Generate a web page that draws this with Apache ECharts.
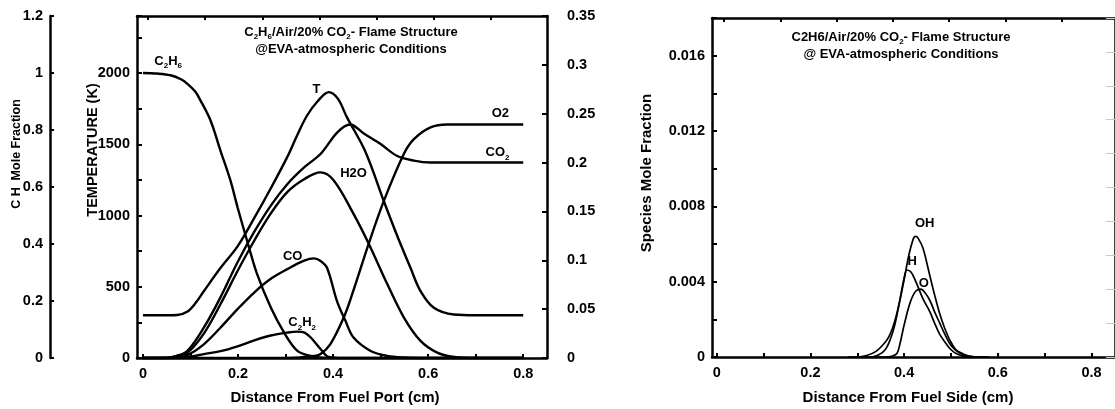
<!DOCTYPE html>
<html>
<head>
<meta charset="utf-8">
<script src="https://cdn.jsdelivr.net/npm/echarts@6/dist/echarts.min.js"></script>
<style>
html, body { margin: 0; padding: 0; background: #fff; }
#chart { width: 1115px; height: 409px; }
</style>
</head>
<body>
<div id="chart"></div>
<script>
// left panel: distance from fuel port (cm)
var c2h6X = [0, 0.03, 0.058, 0.08, 0.093, 0.11, 0.121, 0.142, 0.163, 0.184, 0.199, 0.22, 0.24, 0.269, 0.297, 0.325, 0.353, 0.38, 0.45, 0.6, 0.8];
var c2h6Y = [1.0, 0.998, 0.992, 0.978, 0.963, 0.935, 0.904, 0.834, 0.728, 0.623, 0.529, 0.406, 0.295, 0.177, 0.089, 0.025, 0.007, 0.001, 0, 0, 0];

var tempX = [0, 0.04, 0.072, 0.093, 0.111, 0.128, 0.163, 0.199, 0.234, 0.269, 0.304, 0.324, 0.345, 0.367, 0.391, 0.41, 0.429, 0.468, 0.507, 0.534, 0.563, 0.584, 0.612, 0.654, 0.7, 0.8];
var tempK = [300, 300, 302, 324, 387, 468, 631, 783, 981, 1191, 1413, 1560, 1700, 1800, 1866, 1820, 1690, 1448, 1098, 865, 631, 469, 352, 305, 300, 300];

var h2oX = [0, 0.05, 0.07, 0.093, 0.128, 0.163, 0.199, 0.234, 0.269, 0.304, 0.339, 0.373, 0.401, 0.443, 0.475, 0.514, 0.549, 0.584, 0.619, 0.655, 0.7, 0.8];
var h2oY = [0, 0, 0.002, 0.005, 0.025, 0.055, 0.089, 0.12, 0.148, 0.17, 0.183, 0.19, 0.182, 0.1475, 0.117, 0.0757, 0.0414, 0.0175, 0.0055, 0.001, 0, 0];

var co2X = [0, 0.05, 0.07, 0.093, 0.128, 0.163, 0.199, 0.234, 0.269, 0.304, 0.339, 0.374, 0.409, 0.436, 0.464, 0.5, 0.534, 0.57, 0.605, 0.65, 0.8];
var co2Y = [0, 0, 0.002, 0.007, 0.031, 0.062, 0.098, 0.129, 0.156, 0.178, 0.195, 0.209, 0.231, 0.239, 0.23, 0.219, 0.207, 0.202, 0.2, 0.2, 0.2];

var o2X = [0, 0.3, 0.33, 0.36, 0.373, 0.394, 0.422, 0.44, 0.475, 0.507, 0.549, 0.57, 0.605, 0.64, 0.7, 0.8];
var o2Y = [0, 0, 0.0005, 0.002, 0.0038, 0.014, 0.041, 0.065, 0.117, 0.161, 0.209, 0.224, 0.236, 0.239, 0.239, 0.239];

var coX = [0, 0.058, 0.093, 0.128, 0.163, 0.199, 0.234, 0.269, 0.304, 0.339, 0.36, 0.373, 0.387, 0.408, 0.426, 0.443, 0.479, 0.514, 0.549, 0.6, 0.8];
var coY = [0, 0, 0.003, 0.014, 0.031, 0.05, 0.067, 0.081, 0.091, 0.0996, 0.102, 0.0996, 0.0927, 0.0585, 0.038, 0.0209, 0.0072, 0.0021, 0.0005, 0, 0];

var c2h2X = [0, 0.093, 0.128, 0.163, 0.199, 0.234, 0.269, 0.304, 0.325, 0.34, 0.353, 0.374, 0.391, 0.42, 0.8];
var c2h2Y = [0, 0.001, 0.004, 0.007, 0.012, 0.018, 0.023, 0.026, 0.027, 0.026, 0.021, 0.009, 0.001, 0, 0];

// right panel: radicals vs distance from fuel side (cm)
var ohX = [0.28, 0.3, 0.32, 0.34, 0.36, 0.37, 0.38, 0.39, 0.4, 0.41, 0.42, 0.425, 0.43, 0.44, 0.455, 0.465, 0.476, 0.487, 0.4975, 0.51, 0.526, 0.54, 0.56, 0.58];
var ohY = [0, 0, 0.00008, 0.0003, 0.0008, 0.0012, 0.0019, 0.0029, 0.0041, 0.0054, 0.0063, 0.0064, 0.0063, 0.0058, 0.0043, 0.0033, 0.0023, 0.0015, 0.0009, 0.0004, 0.00016, 0.00004, 0, 0];

var hX = [0.3, 0.33, 0.345, 0.36, 0.37, 0.38, 0.39, 0.4, 0.406, 0.415, 0.425, 0.44, 0.455, 0.465, 0.476, 0.487, 0.4975, 0.51, 0.526, 0.54, 0.58];
var hY = [0, 0, 0.0001, 0.0004, 0.0009, 0.0017, 0.0029, 0.0042, 0.00462, 0.0045, 0.004, 0.0031, 0.0024, 0.0018, 0.0012, 0.0008, 0.00045, 0.0002, 0.00005, 0, 0];

var oX = [0.34, 0.36, 0.375, 0.385, 0.392, 0.4, 0.413, 0.425, 0.436, 0.445, 0.455, 0.465, 0.476, 0.487, 0.4975, 0.508, 0.518, 0.53, 0.54, 0.56, 0.58];
var oY = [0, 0, 0.00005, 0.0002, 0.0008, 0.0017, 0.0029, 0.0035, 0.0036, 0.0034, 0.003, 0.0024, 0.0018, 0.0012, 0.0007, 0.0004, 0.00022, 0.00008, 0.00003, 0, 0];

var xTicks = [0, 0.1, 0.2, 0.3, 0.4, 0.5, 0.6, 0.7, 0.8];
var xLabels = [0, 0.2, 0.4, 0.6, 0.8];
var topTicksL = [0.011, 0.131, 0.251, 0.371, 0.491, 0.611, 0.731];
var topTicksR = [0.016, 0.136, 0.256, 0.376, 0.496, 0.616, 0.736];

var FONT = '"Liberation Sans", Arial, sans-serif';

function zip(xs, ys) {
  var out = [];
  for (var i = 0; i < xs.length; i++) out.push([xs[i], ys[i]]);
  return out;
}

var tickLabel = { color: '#000', fontFamily: FONT, fontWeight: 'bold', fontSize: 14.5 };
var frameLine = { show: true, onZero: false, lineStyle: { color: '#000', width: 2.5 } };
var tickLine = { color: '#000', width: 2 };
var subRich = {
  b: { fontFamily: FONT, fontWeight: 'bold', fontSize: 13, color: '#000', lineHeight: 17, verticalAlign: 'middle' },
  s: { fontFamily: FONT, fontWeight: 'bold', fontSize: 8, color: '#000', verticalAlign: 'bottom' }
};
var titleRich = {
  b: { fontFamily: FONT, fontWeight: 'bold', fontSize: 13, color: '#000', lineHeight: 17, verticalAlign: 'middle' },
  s: { fontFamily: FONT, fontWeight: 'bold', fontSize: 8, color: '#000', verticalAlign: 'bottom' }
};

function curve(name, xs, ys, xi, yi, width, lab) {
  var s = {
    name: name,
    type: 'line',
    xAxisIndex: xi,
    yAxisIndex: yi,
    data: zip(xs, ys),
    showSymbol: false,
    smooth: 0.35,
    lineStyle: { color: '#000', width: width },
    silent: true
  };
  if (lab) {
    s.markPoint = {
      symbol: 'circle',
      symbolSize: 0,
      silent: true,
      label: { show: true, position: 'inside', formatter: lab.text, rich: subRich },
      data: [{ coord: lab.at }]
    };
  }
  return s;
}

var chart = echarts.init(document.getElementById('chart'), null, { renderer: 'canvas' });

var option = {
  animation: false,
  backgroundColor: '#fff',
  grid: [
    { left: 137, top: 16, width: 410, height: 342 },
    { left: 712, top: 18, width: 408.5, height: 339 }
  ],
  xAxis: [
    {
      gridIndex: 0, type: 'value', position: 'bottom', min: -0.0125, max: 0.85,
      axisLine: frameLine, splitLine: { show: false },
      axisTick: { inside: true, length: 4, lineStyle: tickLine, customValues: xTicks },
      axisLabel: Object.assign({ margin: 8, customValues: xLabels }, tickLabel)
    },
    {
      gridIndex: 0, type: 'value', position: 'top', min: -0.0125, max: 0.85,
      axisLine: frameLine, splitLine: { show: false }, axisLabel: { show: false },
      axisTick: { inside: true, length: 4, lineStyle: tickLine, customValues: topTicksL }
    },
    {
      gridIndex: 1, type: 'value', position: 'bottom', min: -0.01, max: 0.85,
      axisLine: frameLine, splitLine: { show: false },
      axisTick: { inside: true, length: 4, lineStyle: tickLine, customValues: xTicks },
      axisLabel: Object.assign({ margin: 8, customValues: xLabels }, tickLabel)
    },
    {
      gridIndex: 1, type: 'value', position: 'top', min: -0.01, max: 0.85,
      axisLine: frameLine, splitLine: { show: false }, axisLabel: { show: false },
      axisTick: { inside: true, length: 4, lineStyle: tickLine, customValues: topTicksR }
    }
  ],
  yAxis: [
    {
      // temperature
      gridIndex: 0, type: 'value', position: 'left', min: 0, max: 2400, interval: 250,
      axisLine: frameLine, splitLine: { show: false },
      axisTick: { inside: true, length: 5, lineStyle: tickLine },
      axisLabel: Object.assign({
        margin: 7,
        formatter: function (v) { return v % 500 === 0 ? String(v) : ''; }
      }, tickLabel)
    },
    {
      // C2H6 mole fraction, detached axis
      gridIndex: 0, type: 'value', position: 'left', offset: 87, min: 0, max: 1.2, interval: 0.2,
      axisLine: frameLine, splitLine: { show: false },
      axisTick: { inside: true, length: 4, lineStyle: tickLine },
      axisLabel: Object.assign({ margin: 7 }, tickLabel)
    },
    {
      // species mole fraction
      gridIndex: 0, type: 'value', position: 'right', min: 0, max: 0.35, interval: 0.05,
      axisLine: frameLine, splitLine: { show: false },
      axisTick: { inside: true, length: 5, lineStyle: tickLine },
      axisLabel: Object.assign({ margin: 20 }, tickLabel)
    },
    {
      gridIndex: 1, type: 'value', position: 'left', min: 0, max: 0.018, interval: 0.002,
      axisLine: frameLine, splitLine: { show: false },
      axisTick: { inside: true, length: 5, lineStyle: tickLine },
      axisLabel: Object.assign({
        margin: 7,
        formatter: function (v) {
          var k = v / 0.004;
          if (Math.abs(k - Math.round(k)) > 1e-6) return '';
          return v === 0 ? '0' : v.toFixed(3);
        }
      }, tickLabel)
    },
    {
      gridIndex: 1, type: 'value', position: 'right', min: 0, max: 0.018, interval: 0.0018,
      axisLine: frameLine, splitLine: { show: false }, axisLabel: { show: false },
      axisTick: { inside: true, length: 9, lineStyle: { color: '#c8c8c8', width: 1 } }
    }
  ],
  series: [
    curve('C2H6', c2h6X, c2h6Y, 0, 1, 2.4, { text: '{b|C}{s|2}{b|H}{s|6}', at: [0.053, 1.04] }),
    curve('T', tempX, tempK, 0, 0, 2.4, { text: '{b|T}', at: [0.365, 1888] }),
    curve('H2O', h2oX, h2oY, 0, 2, 2.4, { text: '{b|H2O}', at: [0.443, 0.189] }),
    curve('CO2', co2X, co2Y, 0, 2, 2.4, { text: '{b|CO}{s|2}', at: [0.746, 0.21] }),
    curve('O2', o2X, o2Y, 0, 2, 2.4, { text: '{b|O2}', at: [0.752, 0.25] }),
    curve('CO', coX, coY, 0, 2, 2.4, { text: '{b|CO}', at: [0.315, 0.1037] }),
    curve('C2H2', c2h2X, c2h2Y, 0, 2, 2.4, { text: '{b|C}{s|2}{b|H}{s|2}', at: [0.335, 0.036] }),
    curve('OH', ohX, ohY, 2, 3, 1.7, { text: '{b|OH}', at: [0.444, 0.00707] }),
    curve('H', hX, hY, 2, 3, 1.7, { text: '{b|H}', at: [0.417, 0.00505] }),
    curve('O', oX, oY, 2, 3, 1.7, { text: '{b|O}', at: [0.442, 0.00393] })
  ],
  graphic: [
    {
      type: 'text', x: 17, y: 154, rotation: Math.PI / 2,
      style: { text: 'C H  Mole Fraction', font: 'bold 12.5px ' + FONT, fill: '#000', align: 'center', verticalAlign: 'middle' }
    },
    {
      type: 'text', x: 93, y: 150, rotation: Math.PI / 2,
      style: { text: 'TEMPERATURE (K)', font: 'bold 14.5px ' + FONT, fill: '#000', align: 'center', verticalAlign: 'middle' }
    },
    {
      type: 'text', x: 647, y: 173, rotation: Math.PI / 2,
      style: { text: 'Species Mole Fraction', font: 'bold 15px ' + FONT, fill: '#000', align: 'center', verticalAlign: 'middle' }
    },
    {
      type: 'text', x: 351, y: 41,
      style: {
        text: '{b|C}{s|2}{b|H}{s|6}{b|/Air/20% CO}{s|2}{b|- Flame Structure}\n{b|@EVA-atmospheric Conditions}',
        align: 'center', verticalAlign: 'middle', rich: titleRich
      }
    },
    {
      type: 'text', x: 901, y: 46,
      style: {
        text: '{b|C2H6/Air/20% CO}{s|2}{b|- Flame Structure}\n{b|@ EVA-atmospheric Conditions}',
        align: 'center', verticalAlign: 'middle', rich: titleRich
      }
    },
    {
      type: 'text', x: 335, y: 398,
      style: { text: 'Distance From Fuel Port (cm)', font: 'bold 15px ' + FONT, fill: '#000', align: 'center', verticalAlign: 'middle' }
    },
    {
      type: 'text', x: 908, y: 398,
      style: { text: 'Distance From Fuel Side (cm)', font: 'bold 15px ' + FONT, fill: '#000', align: 'center', verticalAlign: 'middle' }
    }
  ]
};

chart.setOption(option);
</script>
</body>
</html>
